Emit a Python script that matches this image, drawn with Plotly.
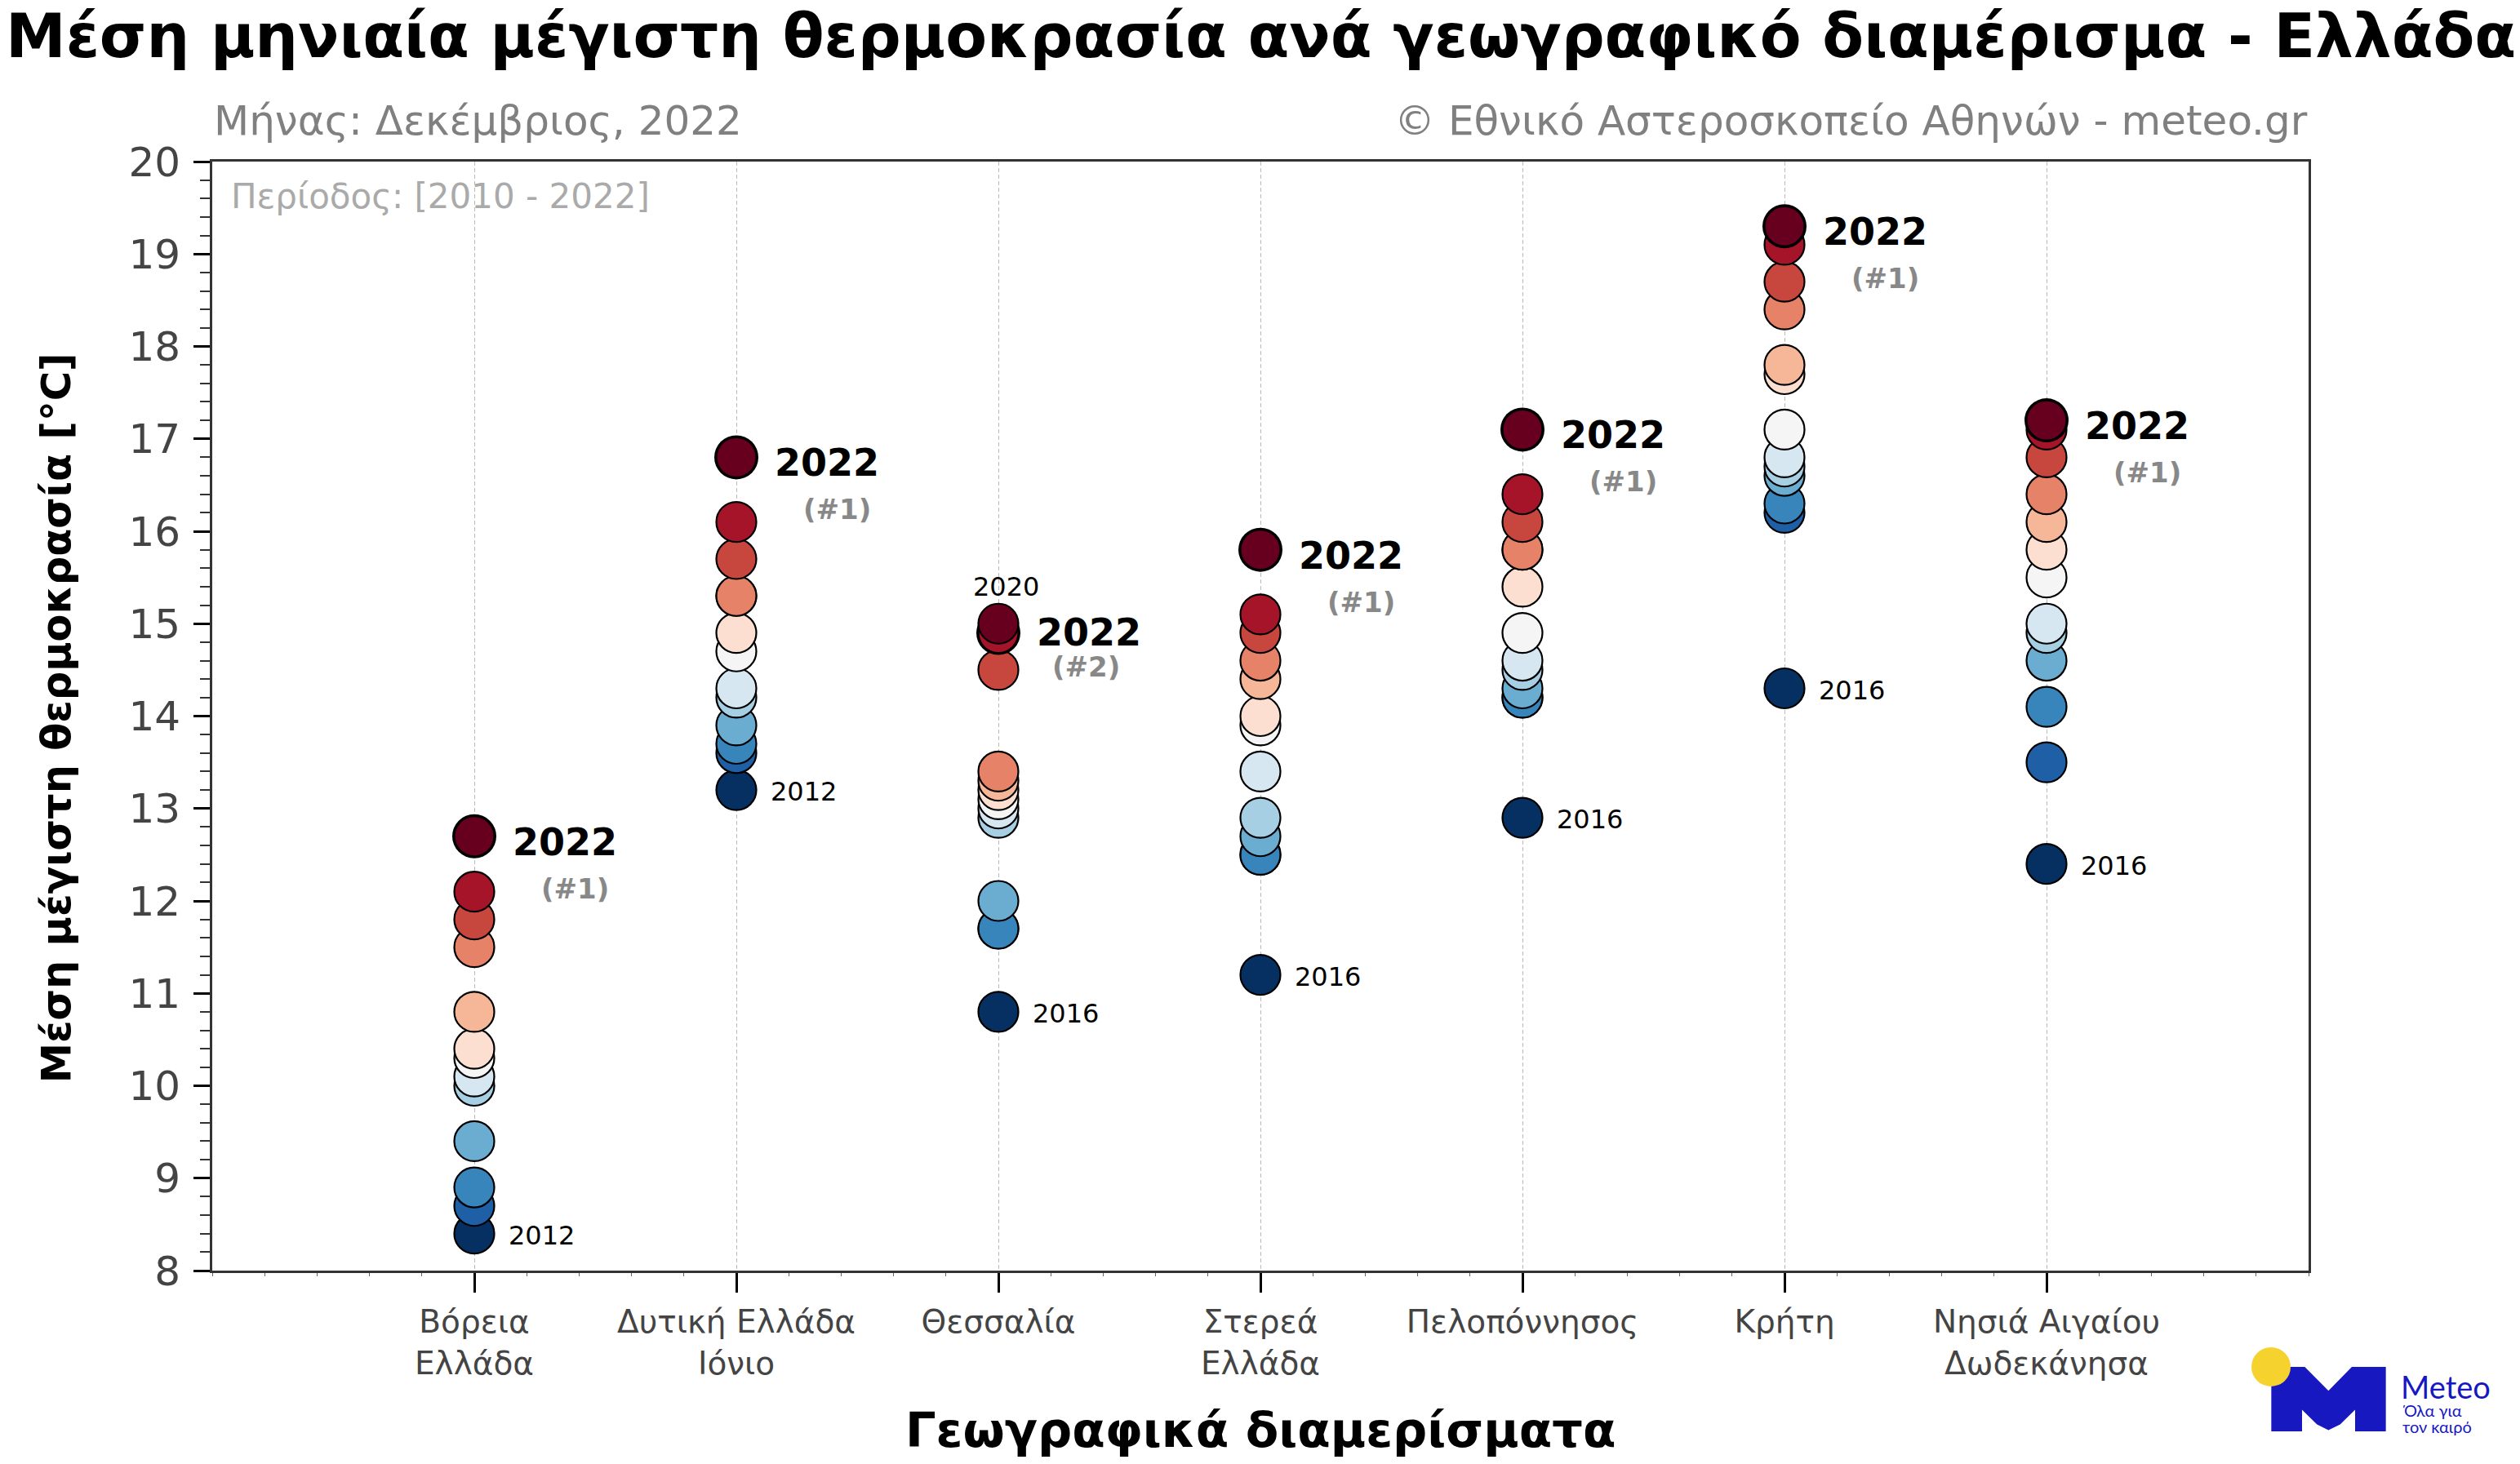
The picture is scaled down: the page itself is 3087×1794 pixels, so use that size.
import plotly.graph_objects as go

# ---------- data ----------
region_labels = ["Βόρεια<br>Ελλάδα", "Δυτική Ελλάδα<br>Ιόνιο", "Θεσσαλία", "Στερεά<br>Ελλάδα",
                 "Πελοπόννησος", "Κρήτη", "Νησιά Αιγαίου<br>Δωδεκάνησα"]
voreia = [8.4, 8.7, 8.9, 9.4, 10.0, 10.1, 10.3, 10.4, 10.8, 11.5, 11.8, 12.1, 12.7]
dytiki = [13.2, 13.6, 13.7, 13.9, 14.2, 14.3, 14.7, 14.9, 15.3, 15.3, 15.7, 16.1, 16.8]
thessalia = [10.8, 11.7, 11.7, 12.0, 12.9, 13.0, 13.1, 13.2, 13.3, 13.4, 14.5, 14.9, 15.0]
sterea = [11.2, 12.5, 12.5, 12.7, 12.9, 13.4, 13.9, 14.0, 14.4, 14.6, 14.9, 15.1, 15.8]
peloponnisos = [12.9, 14.2, 14.2, 14.3, 14.5, 14.6, 14.9, 15.4, 15.8, 15.8, 16.1, 16.4, 17.1]
kriti = [14.3, 16.2, 16.3, 16.6, 16.7, 16.8, 17.1, 17.7, 17.8, 18.4, 18.7, 19.1, 19.3]
nisia = [12.4, 13.5, 14.1, 14.6, 14.9, 15.0, 15.5, 15.8, 16.1, 16.4, 16.8, 17.1, 17.2]
regions = [voreia, dytiki, thessalia, sterea, peloponnisos, kriti, nisia]
rank_colors = ["#053061", "#1f5fa6", "#3885bc", "#6bacd1", "#a6cfe3", "#d6e7f1", "#f5f5f5",
               "#fcdfd0", "#f6b799", "#e58267", "#c7473f", "#a51429", "#67001f"]
index_2022 = [12, 12, 11, 12, 12, 12, 12]
rank_2022 = ["(#1)", "(#1)", "(#2)", "(#1)", "(#1)", "(#1)", "(#1)"]
coldest_year = ["2012", "2012", "2016", "2016", "2016", "2016", "2016"]

W, H = 3087, 1794
L, R, T, B = 260, 2828, 197.5, 1557
PW, PH = R - L, B - T
px = lambda v: (v - L) / PW
py = lambda v: (B - v) / PH

fig = go.Figure()
for i, vals in enumerate(regions):
    xs, ys, cols, sizes, lw = [], [], [], [], []
    for r, v in enumerate(vals):
        if r == index_2022[i]:
            xs.append(i); ys.append(v); cols.append("#000000"); sizes.append(54); lw.append(0)
        xs.append(i); ys.append(v); cols.append(rank_colors[r]); sizes.append(49); lw.append(2.2)
    fig.add_trace(go.Scatter(x=xs, y=ys, mode="markers", showlegend=False, hoverinfo="y",
                             marker=dict(color=cols, size=sizes, opacity=1,
                                         line=dict(color="#000000", width=lw))))

DJ = "DejaVu Sans"
ann = []
for i, vals in enumerate(regions):
    v = vals[index_2022[i]]
    second = i == 2
    ann.append(dict(x=i, y=v, xref="x", yref="y", text="<b>2022</b>", showarrow=False, xanchor="left",
                    yanchor="middle", xshift=45, yshift=1 if second else -7,
                    font=dict(family=DJ, size=46, color="#000000")))
    ann.append(dict(x=i, y=v, xref="x", yref="y", text="<b>%s</b>" % rank_2022[i], showarrow=False,
                    xanchor="center", yanchor="middle", xshift=107 if second else 123,
                    yshift=-41 if second else -64,
                    font=dict(family=DJ, size=34, color="#888888")))
    ann.append(dict(x=i, y=vals[0], xref="x", yref="y", text=coldest_year[i], showarrow=False, xanchor="left",
                    yanchor="middle", xshift=40, yshift=-2,
                    font=dict(family=DJ, size=32, color="#000000")))
ann.append(dict(x=2, y=thessalia[-1], xref="x", yref="y", text="2020", showarrow=False, xanchor="center",
                yanchor="middle", xshift=9, yshift=45, font=dict(family=DJ, size=32, color="#000000")))


def label(text, x, y, size, color, family=DJ, anchor="left", **kw):
    ann.append(dict(x=px(x), y=py(y), xref="paper", yref="paper", text=text, showarrow=False, xanchor=anchor,
                    yanchor="middle", font=dict(family=family, size=size, color=color), **kw))


label("<b>Μέση μηνιαία μέγιστη θερμοκρασία ανά γεωγραφικό διαμέρισμα - Ελλάδα</b>", 1544, 43, 74, "#000000", DJ, "center")
label("Μήνας: Δεκέμβριος, 2022", 260, 147, 50, "#808080")
label("© Εθνικό Αστεροσκοπείο Αθηνών - meteo.gr", 2829, 147, 50, "#808080", anchor="right")
label("Περίοδος: [2010 - 2022]", 281, 240, 42, "#aaaaaa")
label("<b>Γεωγραφικά διαμερίσματα</b>", 1544, 1753, 59, "#000000", DJ, "center")
ann.append(dict(x=px(69), y=py(880), xref="paper", yref="paper", text="<b>Μέση μέγιστη θερμοκρασία [°C]</b>",
                textangle=-90, showarrow=False, xanchor="center", yanchor="middle",
                font=dict(family=DJ, size=49.5, color="#000000")))
LOGO = "#1818c0"
label("Meteo", 2939, 1699, 38, LOGO, "Lato")
label("Όλα για", 2941, 1728, 20, LOGO, "Lato")
label("τον καιρό", 2941, 1748, 20, LOGO, "Lato")

m_outline = [(397, 525), (520, 525), (607, 613), (693, 525), (818, 525), (818, 762), (705, 762), (705, 683),
             (650, 737), (607, 758), (565, 737), (510, 683), (510, 762), (397, 762)]
path = "M " + " L ".join("%.5f,%.5f" % (px(2650 + a / 3), py(1500 + b / 3)) for a, b in m_outline) + " Z"
shapes = [dict(type="path", path=path, xref="paper", yref="paper", fillcolor=LOGO, line=dict(width=0), layer="above"),
          dict(type="circle", xref="paper", yref="paper", x0=px(2758), x1=px(2806), y0=py(1699), y1=py(1651),
               fillcolor="#f5d22e", line=dict(width=0), layer="above")]

fig.update_layout(
    width=W, height=H, autosize=False, margin=dict(l=L, r=W - R, t=T, b=H - B), paper_bgcolor="white",
    plot_bgcolor="white", annotations=ann, shapes=shapes, showlegend=False,
    xaxis=dict(range=[-1, 7], tickmode="array", tickvals=list(range(7)), ticktext=region_labels,
               showline=True, linecolor="#333333", linewidth=3, mirror=True, ticks="outside", ticklen=24, tickwidth=3,
               tickcolor="#000000", tickfont=dict(family=DJ, size=39, color="#444444"), zeroline=False,
               ticklabelstandoff=2,
               showgrid=True, gridcolor="#bbbbbb", gridwidth=1.2, griddash="5px,3px",
               minor=dict(dtick=0.2, tick0=0, ticks="outside", ticklen=4, tickwidth=1, tickcolor="#666666", showgrid=False)),
    yaxis=dict(range=[8, 20], tick0=0, dtick=1, showline=True, linecolor="#333333", linewidth=3, mirror=True,
               ticks="outside", ticklen=20, tickwidth=3, tickcolor="#000000", showgrid=False, zeroline=False,
               tickfont=dict(family=DJ, size=50, color="#444444"), ticklabelstandoff=6,
               minor=dict(dtick=0.2, tick0=0, ticks="outside", ticklen=12, tickwidth=2, tickcolor="#333333", showgrid=False)),
)
fig.write_html("out.html", config={"displayModeBar": False},
               post_script="document.body.style.margin='0';document.documentElement.style.overflow='hidden';")
